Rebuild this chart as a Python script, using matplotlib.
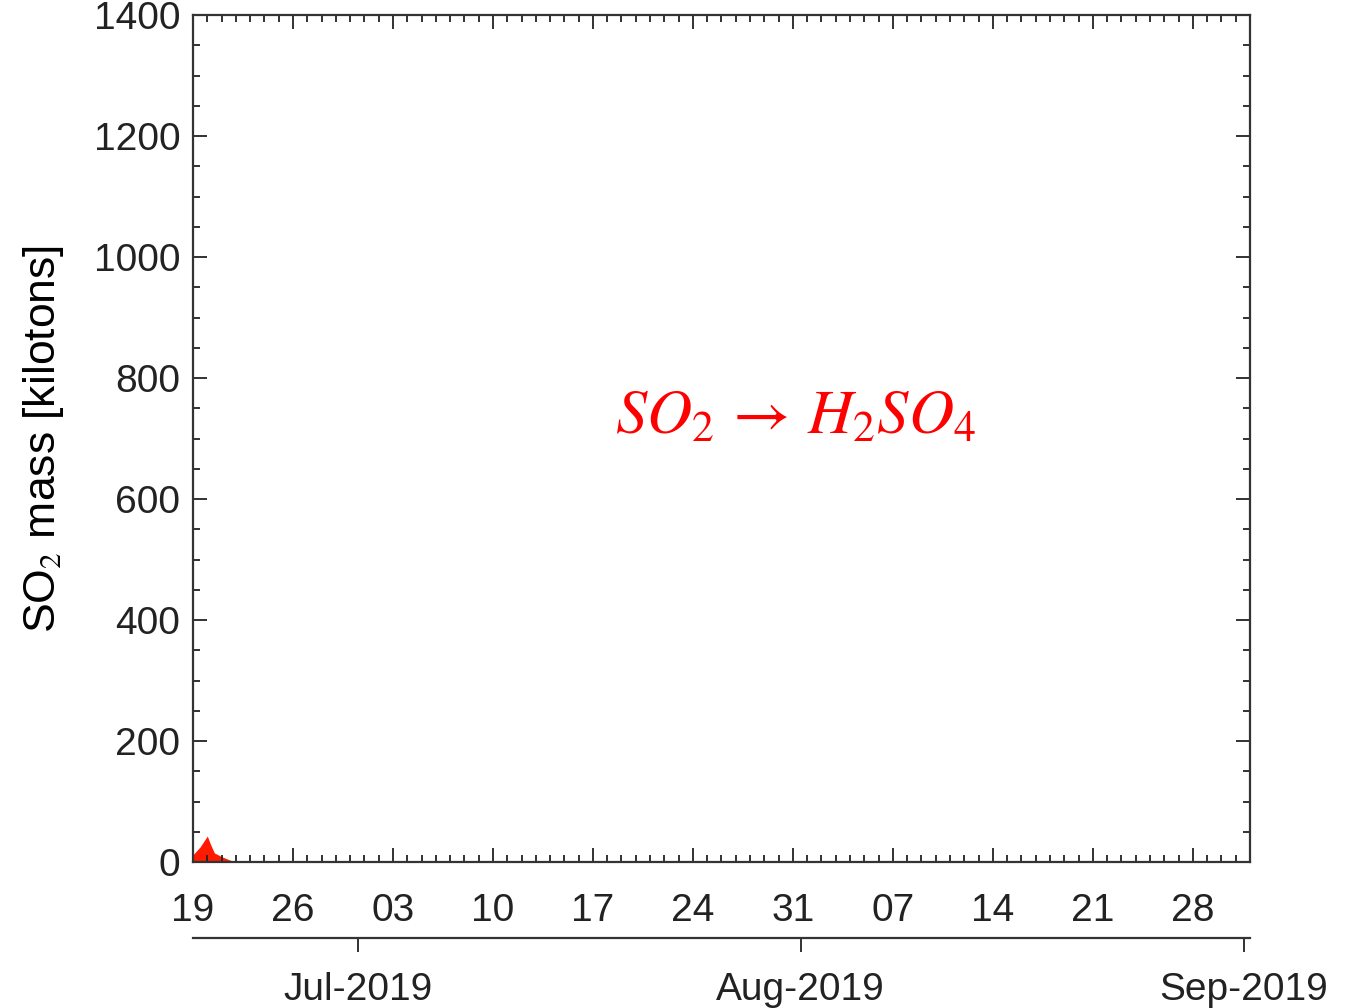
import numpy as np
import matplotlib.pyplot as plt
import matplotlib.dates as mdates
from datetime import datetime

plt.rcParams['font.family'] = ['Liberation Sans', 'DejaVu Sans']
plt.rcParams['mathtext.fontset'] = 'stix'

# SO2 mass time series (kilotons)
times = ['2019-06-19 00:00', '2019-06-19 12:00', '2019-06-20 00:00', '2019-06-20 06:00',
         '2019-06-20 12:00', '2019-06-21 00:00', '2019-06-21 12:00', '2019-06-22 00:00',
         '2019-06-23 00:00']
so2_mass = [12, 25, 43, 28, 15, 9, 4, 0, 0]

major_start = '2019-06-19'
month_ticks = ['2019-07-01', '2019-08-01', '2019-09-01']
month_labels = ['Jul-2019', 'Aug-2019', 'Sep-2019']

t = np.array(times, dtype='datetime64[m]').astype(datetime)

fig = plt.figure(figsize=(13.6, 10.08), dpi=100, facecolor='white')
ax = fig.add_axes([0.1419, 0.1448, 0.7772, 0.8402])

ax.fill_between(t, 0, so2_mass, color='#ff1a00', linewidth=0)

ax.set_xlim(datetime(2019, 6, 19), datetime(2019, 9, 1))
ax.set_ylim(0, 1400)

ticks = np.arange(np.datetime64(major_start), np.datetime64('2019-09-01'), 7).astype(datetime)
ax.set_xticks(ticks)
ax.xaxis.set_major_formatter(mdates.DateFormatter('%d'))
ax.xaxis.set_minor_locator(mdates.DayLocator())
ax.set_yticks(np.arange(0, 1401, 200))
ax.set_yticks(np.arange(0, 1401, 50), minor=True)

ax.tick_params(which='both', direction='in', top=True, right=True, width=1.3, colors='#222222')
ax.tick_params(which='major', length=10)
ax.tick_params(which='minor', length=5)
ax.tick_params(axis='x', which='major', pad=22, labelsize=28)
ax.tick_params(axis='y', which='major', pad=9, labelsize=28)
for s in ax.spines.values():
    s.set_linewidth(1.6)
    s.set_color('#333333')

ax.set_ylabel('SO$_2$ mass [kilotons]', fontsize=32, labelpad=20)

# month axis below (slightly offset, as in the original)
shift = 0.45
ax2 = ax.secondary_xaxis(-0.09, functions=(lambda x: x + shift, lambda x: x - shift))
ax2.set_xticks([mdates.date2num(datetime.fromisoformat(d)) for d in month_ticks])
ax2.set_xticklabels(month_labels)
ax2.tick_params(direction='out', length=10, width=1.3, pad=14, labelsize=28, colors='#222222')
ax2.spines['bottom'].set_linewidth(1.6)
ax2.spines['bottom'].set_color('#333333')

ax.text(0.57, 0.525, r'$SO_2 \,\rightarrow\, H_2SO_4$', transform=ax.transAxes,
        color='red', fontsize=45, ha='center', va='center')

plt.savefig('out.png', dpi=100, facecolor='white')
plt.close()
